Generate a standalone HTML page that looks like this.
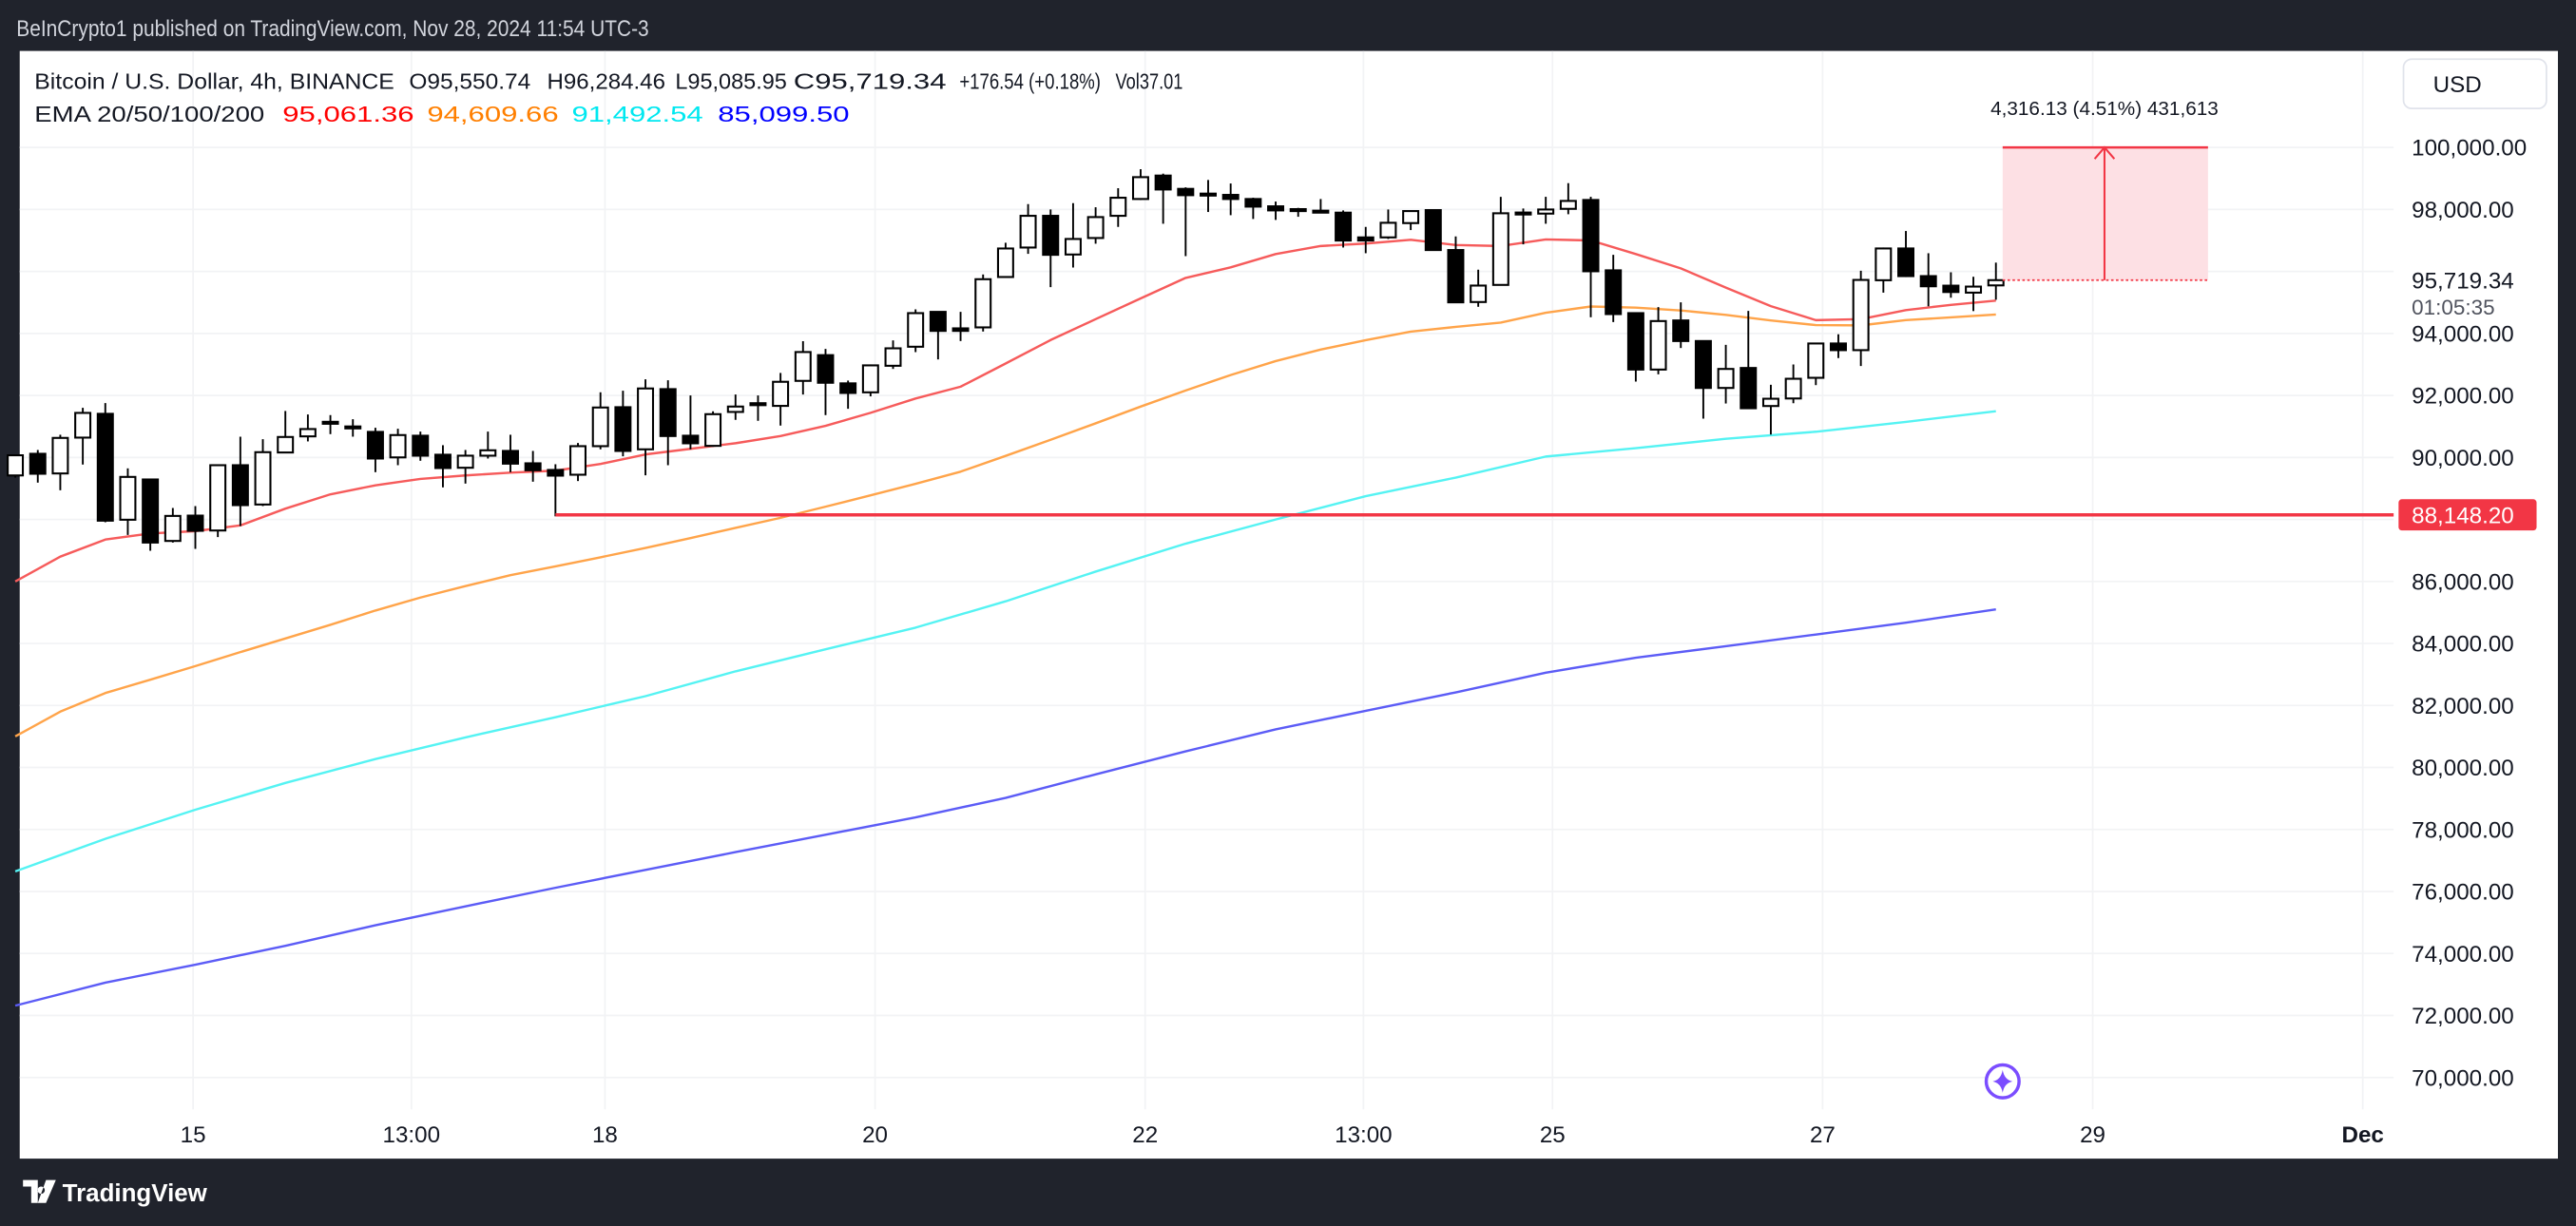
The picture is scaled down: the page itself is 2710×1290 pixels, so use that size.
<!DOCTYPE html>
<html><head><meta charset="utf-8"><style>
html,body{margin:0;padding:0;background:#20232c;}
svg{display:block;font-family:"Liberation Sans",sans-serif;}
</style></head><body>
<svg id="chart" width="2710" height="1290" viewBox="0 0 1568 746" preserveAspectRatio="none" xmlns="http://www.w3.org/2000/svg">
<rect x="0" y="0" width="1568" height="746" fill="#20232c"/>
<text x="10" y="22" font-size="14" fill="#d1d4dc" textLength="385" lengthAdjust="spacingAndGlyphs">BeInCrypto1 published on TradingView.com, Nov 28, 2024 11:54 UTC-3</text>
<rect x="12" y="31" width="1545" height="674" fill="#ffffff"/>
<g id="grid"></g>
<g id="ema"></g>
<g id="candles"></g>
<g id="overlay"></g>
<g id="axis"></g>
<g font-size="13.5" fill="#131722">
<text x="21" y="54" textLength="219" lengthAdjust="spacingAndGlyphs">Bitcoin / U.S. Dollar, 4h, BINANCE</text>
<text x="249" y="54" textLength="74" lengthAdjust="spacingAndGlyphs">O95,550.74</text>
<text x="333" y="54" textLength="72" lengthAdjust="spacingAndGlyphs">H96,284.46</text>
<text x="411" y="54" textLength="68" lengthAdjust="spacingAndGlyphs">L95,085.95</text>
<text x="483" y="54" textLength="93" lengthAdjust="spacingAndGlyphs">C95,719.34</text>
<text x="584" y="54" textLength="86" lengthAdjust="spacingAndGlyphs">+176.54 (+0.18%)</text>
<text x="679" y="54" textLength="41" lengthAdjust="spacingAndGlyphs">Vol37.01</text>
<text x="21" y="74" textLength="140" lengthAdjust="spacingAndGlyphs">EMA 20/50/100/200</text>
<text x="172" y="74" fill="#ff0000" textLength="80" lengthAdjust="spacingAndGlyphs">95,061.36</text>
<text x="260" y="74" fill="#ff7f00" textLength="80" lengthAdjust="spacingAndGlyphs">94,609.66</text>
<text x="348" y="74" fill="#00e8f0" textLength="80" lengthAdjust="spacingAndGlyphs">91,492.54</text>
<text x="437" y="74" fill="#0000ff" textLength="80" lengthAdjust="spacingAndGlyphs">85,099.50</text>
</g>
<g>
<rect x="1463" y="36" width="87" height="30" rx="5" fill="#fff" stroke="#e0e3eb"/>
<text x="1481" y="56" font-size="14" fill="#131722">USD</text>
</g>
<g>
<circle cx="1219" cy="658" r="10" fill="#fff" stroke="#7b4dff" stroke-width="2"/>
<path d="M1219 651 Q1220 657 1225 658 Q1220 659 1219 665 Q1218 659 1213 658 Q1218 657 1219 651Z" fill="#7b4dff"/>
</g>
<g>
<path d="M14 718 h9 v14 h-4 v-10 h-5z M25 722 a2.2 2.2 0 1 0 0.1 0z M28 718 h6 l-6 14 h-5z" fill="#ffffff"/>
<text x="38" y="731" font-size="15" font-weight="bold" fill="#ffffff">TradingView</text>
</g>
</svg>
<script>
const opens=[89420,90118,89484,90640,91407,87991,89290,87307,88124,87644,89750,88482,90160,90680,91100,91000,90824,90002,90701,90088,89668,90057,90210,89811,89597,89443,90364,91621,90262,92204,90701,90374,91468,91700,91663,92470,93300,92390,92100,92957,93571,94696,94164,94195,95820,96771,97794,96546,97078,97794,98336,99092,98663,98510,98469,98336,98100,98010,97960,97896,97098,97098,97559,97978,96690,95013,95565,97900,97865,98019,98305,96035,94655,92835,94419,93755,92242,92886,91659,91902,92569,93676,93461,95716,96741,95849,95541,95316,95550];
const highs=[90100,90241,90732,91601,91754,89648,89290,88370,88431,89781,90670,90589,91499,91386,91366,91233,90957,90926,90834,90395,90241,90834,90732,90210,89781,90466,92102,92153,92521,92490,92000,91488,92030,92000,92726,93750,93500,92480,93000,93775,94777,94696,94696,95902,96925,98172,97998,98203,98070,98684,99297,99154,98714,98950,98837,98377,98254,98050,98336,97968,97436,97998,97947,97978,97129,96056,98407,98030,98407,98847,98407,96536,94655,94849,95003,93755,93632,94726,92344,92999,93676,93973,96023,96771,97304,96587,95972,95828,96284];
const lows=[89350,89188,88942,89771,87910,87500,86990,87255,87051,87430,87787,88431,90160,90517,90752,90670,89525,89750,89893,89035,89157,89965,89525,89218,88100,89239,90262,90037,89423,89750,90262,90344,91212,91182,91028,92030,91366,91570,91970,92855,93397,93162,93755,94062,95820,96567,95493,96127,96894,97436,98305,97538,96495,97917,97814,97692,97661,97763,97896,96771,96587,97047,97334,96690,95003,94859,95565,96874,97538,97845,94522,94368,92446,92681,93530,91250,91740,91557,90738,91749,92333,93205,92948,95316,95818,94875,95152,94721,95086];
const closes=[90070,89474,90630,91437,87961,89372,87255,88114,87634,89750,88462,90170,90660,90916,91150,90950,89965,90722,90057,89658,90057,90231,89800,89587,89413,90364,91611,90210,92225,90691,90456,91396,91642,91750,92440,93400,92409,92080,92970,93520,94655,94082,94082,95749,96740,97794,96536,97047,97753,98377,99041,98643,98459,98490,98336,98090,97968,97990,97940,96996,96996,97569,97947,96690,95003,95544,97876,97900,97998,98274,96005,94624,92835,94399,93755,92242,92855,91587,91894,92538,93676,93461,95726,96741,95849,95521,95336,95511,95719];
const ema20=[86000,86800,87350,87550,87620,87810,88350,88810,89100,89310,89420,89510,89575,89790,90100,90280,90460,90690,91020,91440,91900,92280,93030,93790,94460,95130,95790,96130,96560,96820,96900,97020,96850,96820,97030,97000,96560,96100,95480,94880,94430,94460,94750,94920,95061];
const ema50=[81000,81800,82400,82830,83270,83720,84160,84600,85060,85480,85850,86200,86490,86780,87080,87400,87730,88050,88410,88780,89150,89540,90050,90570,91100,91640,92160,92660,93110,93480,93780,94060,94210,94350,94670,94870,94830,94740,94600,94420,94270,94260,94430,94520,94610];
const ema100=[76650,77700,78640,79500,80270,80970,81620,82300,83100,83810,84510,85360,86320,87220,88000,88750,89350,90030,90300,90600,90830,91150,91492];
const ema200=[72320,73060,73640,74250,74910,75520,76120,76700,77270,77830,78390,79020,79780,80520,81230,81830,82420,83060,83540,83910,84290,84670,85100];
const priceTicks=[100000,98000,96000,94000,92000,90000,88000,86000,84000,82000,80000,78000,76000,74000,72000,70000];
const timeLabels=["15","13:00","18","20","22","13:00","25","27","29","Dec"];
const timeIdx=[7.9,17.6,26.2,38.2,50.2,59.9,68.3,80.3,92.3,104.3];
const supportLevel=88148.20;
const lastPrice=95719.34;
const targetPrice=100000;
const supportStartIdx=24;

const NS="http://www.w3.org/2000/svg";
const PLOT_R=1457;
function y(p){return 89.7+(100000-p)*0.018865;}
function x(i){return 9.3+13.7*i;}
function mk(tag,attrs,parent){const e=document.createElementNS(NS,tag);for(const k in attrs)e.setAttribute(k,attrs[k]);parent.appendChild(e);return e;}
const grid=document.getElementById('grid'),emaG=document.getElementById('ema'),cg=document.getElementById('candles'),ov=document.getElementById('overlay'),ax=document.getElementById('axis');

priceTicks.forEach(p=>{
  const l=mk('line',{x1:12,x2:PLOT_R,y1:y(p),y2:y(p),stroke:'#f2f3f5','stroke-width':1},grid);
  
  
  const t=mk('text',{x:1468,y:y(p)+5,'font-size':14,fill:'#131722'},ax);
  t.textContent=p.toLocaleString('en-US',{minimumFractionDigits:2});
  
  
});
timeLabels.forEach((s,k)=>{
  const xx=x(timeIdx[k]);
  const l=mk('line',{x1:xx,x2:xx,y1:31,y2:675,stroke:'#f2f3f5','stroke-width':1},grid);
  
  
  const t=mk('text',{x:xx,y:695,'font-size':14,fill:'#131722','text-anchor':'middle','font-weight':s==='Dec'?'bold':'normal'},ax);
  t.textContent=s;
  
  
});

function drawEma(arr,step,color,name){
  const pts=arr.map((v,k)=>x(k*step).toFixed(1)+','+y(v).toFixed(1)).join(' ');
  const pl=mk('polyline',{points:pts,fill:'none',stroke:color,'stroke-width':1.4,'stroke-linejoin':'round'},emaG);
  
  
}
drawEma(ema200,4,'#5c5cf6','ema200-line');
drawEma(ema100,4,'#55f3f3','ema100-line');
drawEma(ema50,2,'#ffa44a','ema50-line');
drawEma(ema20,2,'#f65b5b','ema20-line');

const sl=mk('line',{x1:x(supportStartIdx),x2:PLOT_R,y1:y(supportLevel),y2:y(supportLevel),stroke:'#f23645','stroke-width':2},ov);



opens.forEach((o,i)=>{
  const c=closes[i],h=highs[i],l=lows[i],cx=x(i);
  const w=mk('line',{x1:cx,x2:cx,y1:y(h),y2:y(l),stroke:'#000','stroke-width':1.1},cg);
  
  
  const top=y(Math.max(o,c)),bot=y(Math.min(o,c));
  const b=mk('rect',{x:cx-4.6,y:top,width:9.2,height:Math.max(bot-top,1.2),fill:c>=o?'#fff':'#000',stroke:'#000','stroke-width':1.2},cg);
  
  
});

const x0=1219,x1=1344,yt=y(targetPrice),yb=y(lastPrice);
const box=mk('rect',{x:x0,y:yt,width:x1-x0,height:yb-yt,fill:'#fde0e4'},ov);


const tl=mk('line',{x1:x0,x2:x1,y1:yt,y2:yt,stroke:'#f23645','stroke-width':1.4},ov);


const bl=mk('line',{x1:x0,x2:x1,y1:yb,y2:yb,stroke:'#f23645','stroke-width':1,'stroke-dasharray':'1.5 1.5'},ov);


const ar=mk('path',{d:`M1281 ${yb} V${yt} M1275 ${yt+7} L1281 ${yt} L1287 ${yt+7}`,stroke:'#f23645','stroke-width':1.2,fill:'none'},ov);


const mt=mk('text',{x:1281,y:70,'font-size':12,fill:'#131722','text-anchor':'middle'},ov);
mt.textContent='4,316.13 (4.51%) 431,613';



const cbg=mk('rect',{x:1460,y:y(lastPrice)-11,width:92,height:30,fill:'#fff'},ax);


const cp=mk('text',{x:1468,y:y(lastPrice)+5,'font-size':14,fill:'#131722'},ax);
cp.textContent=lastPrice.toLocaleString('en-US',{minimumFractionDigits:2});


const cd=mk('text',{x:1468,y:y(lastPrice)+21,'font-size':13,fill:'#50535e'},ax);
cd.textContent='01:05:35';



const sb=mk('rect',{x:1460,y:y(supportLevel)-9.5,width:84,height:19,rx:2,fill:'#f23645'},ax);


const st=mk('text',{x:1468,y:y(supportLevel)+5,'font-size':14,fill:'#fff'},ax);
st.textContent=supportLevel.toLocaleString('en-US',{minimumFractionDigits:2});


</script>
</body></html>
